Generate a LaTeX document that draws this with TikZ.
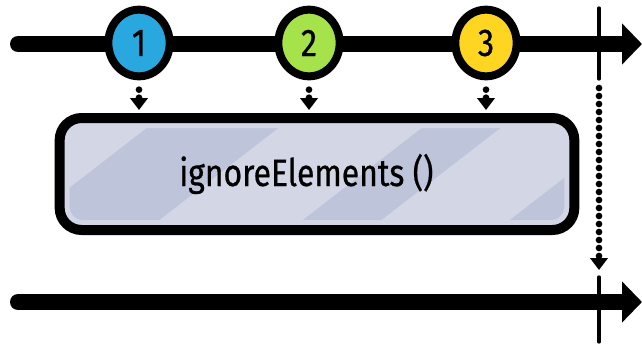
\documentclass[tikz,border=0pt]{standalone}
\usepackage{fontspec}
\setmainfont{Fira Sans}
\newfontfamily\sketchfont{Fira Sans}[FakeStretch=0.84,FakeBold=0.6]
\usepackage{tikz}
\usetikzlibrary{arrows.meta}
\usetikzlibrary{calc}
\usetikzlibrary{positioning}
\usetikzlibrary{shapes.geometric}

\definecolor{marbleblue}{HTML}{29A8E0}
\definecolor{marblegreen}{HTML}{A6E24A}
\definecolor{marbleyellow}{HTML}{FED520}
\definecolor{opfill}{HTML}{BEC4DA}
\definecolor{opstripe}{HTML}{D2D6E5}

\begin{document}
\begin{tikzpicture}[x=0.75pt,y=-0.75pt,
    timeline/.style={line width=12pt,line cap=round,-{Triangle[length=15pt,width=30pt]}},
    stopmark/.style={line width=2.5pt,line cap=round},
    emit/.style={line width=5pt,line cap=round,dash pattern=on 0pt off 6pt,-{Triangle[length=9pt,width=13pt]}},
    marble/.style={ellipse,draw,line width=6pt,minimum width=46pt,minimum height=50pt,inner sep=0pt,font=\sketchfont\fontsize{29}{29}\selectfont},
    operator/.style={rectangle,draw,line width=7.5pt,rounded corners=16.5pt,fill=opfill,minimum width=386pt,minimum height=84pt,font=\sketchfont\fontsize{28.5}{30}\selectfont,
        path picture={
            \foreach \a/\w in {-200/155,87/143,309/128}
                \fill[opstripe,sharp corners] ($(path picture bounding box.south west)+(\a,0)$) -- ++(\w,0) -- ++(150,-116) -- ++(-\w,0) -- cycle;
            \draw[opstripe,line width=4.5pt,rounded corners=12pt] ($(path picture bounding box.south west)+(7,-7)$) rectangle ($(path picture bounding box.north east)+(-7,7)$);
        }}]

    \useasboundingbox (0,0) rectangle (642,347);

    \coordinate (top-start) at (18,44);
    \coordinate (top-end) at (642,44);
    \coordinate (bottom-start) at (18,302);
    \coordinate (bottom-end) at (642,302);
    \coordinate (stop-top) at (599,44);
    \coordinate (stop-bottom) at (599,302);

    \draw[timeline] (top-start) -- (top-end);
    \draw[timeline] (bottom-start) -- (bottom-end);
    \draw[stopmark] ($(stop-top)+(0,-36)$) -- ($(stop-top)+(0,35)$);
    \draw[stopmark] ($(stop-bottom)+(0,-25)$) -- ($(stop-bottom)+(0,40)$);

    \node[marble,fill=marbleblue] (one) at (139,43) {1};
    \node[marble,fill=marblegreen] (two) at (309,43) {2};
    \node[marble,fill=marbleyellow] (three) at (486,43) {3};

    \node[operator] (ignore) at (317,174) {ignoreElements ()\kern16pt};

    \draw[emit,shorten <=7pt,shorten >=2.25pt] (one.south) -- (one |- ignore.north);
    \draw[emit,shorten <=7pt,shorten >=2.25pt] (two.south) -- (two |- ignore.north);
    \draw[emit,shorten <=7pt,shorten >=2.25pt] (three.south) -- (three |- ignore.north);
    \draw[emit,shorten <=33pt,shorten >=24pt] (stop-top) -- (stop-bottom);

\end{tikzpicture}
\end{document}
